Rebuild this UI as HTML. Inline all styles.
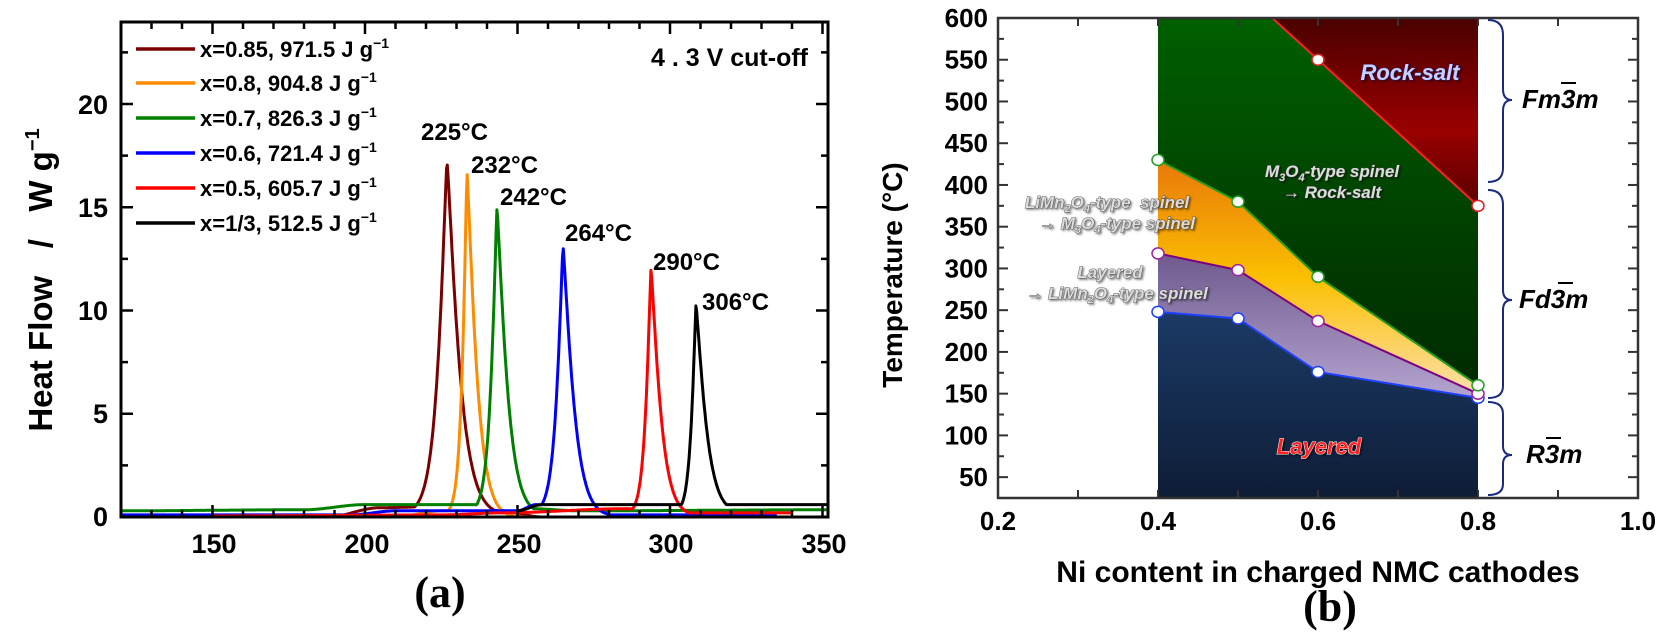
<!DOCTYPE html>
<html><head><meta charset="utf-8">
<style>
html,body{margin:0;padding:0;background:#fff;}
svg{display:block;}
.n{font-family:"Liberation Sans Narrow","Liberation Sans",sans-serif;font-weight:bold;}
.s{font-family:"Liberation Sans",sans-serif;font-weight:bold;}
.t{font-family:"Liberation Serif",serif;font-weight:bold;}
.it{font-family:"Liberation Sans",sans-serif;font-weight:bold;font-style:italic;}
</style></head>
<body>
<svg id="s" width="1663" height="633" viewBox="0 0 1663 633" xmlns="http://www.w3.org/2000/svg">
<defs>
<clipPath id="cl"><rect x="121" y="22" width="707" height="495"/></clipPath>
<linearGradient id="gNavy" x1="0" y1="0" x2="0" y2="1"><stop offset="0" stop-color="#1b3a66"/><stop offset="1" stop-color="#0e1d36"/></linearGradient>
<linearGradient id="gLav" x1="0" y1="0" x2="0" y2="1"><stop offset="0" stop-color="#6e5a8e"/><stop offset="1" stop-color="#b4a4cf"/></linearGradient>
<linearGradient id="gOr" x1="0" y1="0" x2="0" y2="1"><stop offset="0" stop-color="#e8780a"/><stop offset="0.5" stop-color="#fbbf00"/><stop offset="1" stop-color="#fde0a8"/></linearGradient>
<linearGradient id="gGr" x1="0" y1="0" x2="0" y2="1"><stop offset="0" stop-color="#006000"/><stop offset="0.6" stop-color="#003e00"/><stop offset="1" stop-color="#002a00"/></linearGradient>
<linearGradient id="gRd" x1="0" y1="0" x2="0" y2="1"><stop offset="0" stop-color="#4a0000"/><stop offset="0.6" stop-color="#990000"/><stop offset="1" stop-color="#5a0000"/></linearGradient>
<filter id="sh" x="-10%" y="-30%" width="120%" height="160%"><feDropShadow dx="1.5" dy="1.5" stdDeviation="1" flood-color="#000" flood-opacity="0.5"/></filter>
</defs>

<!-- LEFT PLOT -->
<g id="curves" clip-path="url(#cl)" fill="none" stroke-width="3" stroke-linejoin="round"></g>
<rect x="121" y="22" width="707" height="495" fill="none" stroke="#000" stroke-width="3"/>
<g id="lticks" stroke="#000" stroke-width="2.5"></g>
<g class="n" font-size="27" text-anchor="middle" fill="#000">
<text x="214" y="553">150</text><text x="367" y="553">200</text><text x="519" y="553">250</text><text x="671" y="553">300</text><text x="824" y="553">350</text>
</g>
<g class="n" font-size="27" text-anchor="end" fill="#000">
<text x="108" y="526">0</text><text x="108" y="423">5</text><text x="108" y="320">10</text><text x="108" y="217">15</text><text x="108" y="114">20</text>
</g>
<text class="s" font-size="33" transform="translate(52,280) rotate(-90)" text-anchor="middle">Heat Flow &#160;&#160;/ &#160;&#160;W g<tspan font-size="20" dy="-13">−1</tspan></text>
<g stroke-width="3.5">
<line x1="136" y1="49" x2="195" y2="49" stroke="#7b0000"/>
<line x1="136" y1="83" x2="195" y2="83" stroke="#ff8c00"/>
<line x1="136" y1="118" x2="195" y2="118" stroke="#008000"/>
<line x1="136" y1="153" x2="195" y2="153" stroke="#0000ff"/>
<line x1="136" y1="188" x2="195" y2="188" stroke="#ff0000"/>
<line x1="136" y1="223" x2="195" y2="223" stroke="#000"/>
</g>
<g class="n" font-size="22" fill="#000">
<text x="200" y="57">x=0.85, 971.5 J g<tspan font-size="14" dy="-9">−1</tspan></text>
<text x="200" y="91">x=0.8, 904.8 J g<tspan font-size="14" dy="-9">−1</tspan></text>
<text x="200" y="126">x=0.7, 826.3 J g<tspan font-size="14" dy="-9">−1</tspan></text>
<text x="200" y="161">x=0.6, 721.4 J g<tspan font-size="14" dy="-9">−1</tspan></text>
<text x="200" y="196">x=0.5, 605.7 J g<tspan font-size="14" dy="-9">−1</tspan></text>
<text x="200" y="231">x=1/3, 512.5 J g<tspan font-size="14" dy="-9">−1</tspan></text>
</g>
<text class="s" font-size="25" x="808" y="66" text-anchor="end">4 . 3 V cut-off</text>
<g class="n" font-size="24" fill="#000">
<text x="421" y="140">225°C</text><text x="471" y="173">232°C</text><text x="500" y="205">242°C</text>
<text x="565" y="241">264°C</text><text x="653" y="270">290°C</text><text x="702" y="310">306°C</text>
</g>
<text class="t" font-size="44" x="440" y="607" text-anchor="middle">(a)</text>

<!-- RIGHT PLOT -->
<g id="rfill"></g>
<rect x="998" y="18" width="640" height="480" fill="none" stroke="#333" stroke-width="2.5"/>
<g id="rticks" stroke="#333" stroke-width="2"></g>
<g id="rlab" class="n" font-size="26" text-anchor="end" fill="#000"></g>
<g class="n" font-size="26" text-anchor="middle" fill="#000">
<text x="998" y="530">0.2</text><text x="1158" y="530">0.4</text><text x="1318" y="530">0.6</text><text x="1478" y="530">0.8</text><text x="1638" y="530">1.0</text>
</g>
<text class="s" font-size="28" transform="translate(902,275) rotate(-90)" text-anchor="middle">Temperature (°C)</text>
<text class="n" font-size="30" x="1318" y="582" text-anchor="middle">Ni content in charged NMC cathodes</text>
<text class="t" font-size="44" x="1330" y="621" text-anchor="middle">(b)</text>

<g class="it" fill="#ddd" filter="url(#sh)" text-anchor="middle" stroke="#444" stroke-width="0.8" paint-order="stroke">
<text x="1410" y="80" font-size="22" fill="#c8d0ff" stroke="#2a2a90">Rock-salt</text>
<text x="1332" y="177" font-size="17">M<tspan font-size="11" dy="4">3</tspan><tspan dy="-4">O</tspan><tspan font-size="11" dy="4">4</tspan><tspan dy="-4">-type spinel</tspan></text>
<text x="1332" y="198" font-size="17">→ Rock-salt</text>
<text x="1107" y="208" font-size="17">LiMn<tspan font-size="11" dy="4">2</tspan><tspan dy="-4">O</tspan><tspan font-size="11" dy="4">4</tspan><tspan dy="-4">-type &#160;spinel</tspan></text>
<text x="1117" y="229" font-size="17">→ M<tspan font-size="11" dy="4">3</tspan><tspan dy="-4">O</tspan><tspan font-size="11" dy="4">4</tspan><tspan dy="-4">-type spinel</tspan></text>
<text x="1110" y="278" font-size="17">Layered</text>
<text x="1117" y="299" font-size="17">→ LiMn<tspan font-size="11" dy="4">2</tspan><tspan dy="-4">O</tspan><tspan font-size="11" dy="4">4</tspan><tspan dy="-4">-type spinel</tspan></text>
<text x="1319" y="454" font-size="22" fill="#ff2020" stroke="#ffffff" stroke-width="1">Layered</text>
</g>

<g fill="none" stroke="#1a2a80" stroke-width="2">
<path d="M1488,20 Q1503,20 1503,35 L1503,89 Q1503,100 1512,100 Q1503,100 1503,111 L1503,168 Q1503,182 1488,182"/>
<path d="M1488,190 Q1503,190 1503,205 L1503,290 Q1503,300 1512,300 Q1503,300 1503,310 L1503,386 Q1503,398 1488,398"/>
<path d="M1488,402 Q1503,402 1503,414 L1503,446 Q1503,455 1512,455 Q1503,455 1503,464 L1503,484 Q1503,495 1488,495"/>
</g>
<g class="it" font-size="26" fill="#000">
<text x="1522" y="108">Fm3m</text><line x1="1561" y1="83" x2="1576" y2="83" stroke="#000" stroke-width="2"/>
<text x="1519" y="308">Fd3m</text><line x1="1558" y1="283" x2="1573" y2="283" stroke="#000" stroke-width="2"/>
<text x="1526" y="463">R3m</text><line x1="1546" y1="438" x2="1561" y2="438" stroke="#000" stroke-width="2"/>
</g>
</svg>
<script>
(function(){
var NS="http://www.w3.org/2000/svg";
function el(p,n,a){var e=document.createElementNS(NS,n);for(var k in a)e.setAttribute(k,a[k]);p.appendChild(e);return e;}
var X=function(t){return 121+(t-120)*3.05;}, Y=function(v){return 517-v*20.65;};
var lt=document.getElementById('lticks');
for(var t=130;t<=350;t+=10){var maj=(t%50==0);var L=maj?12:7;
 el(lt,'line',{x1:X(t),y1:517,x2:X(t),y2:517-L});el(lt,'line',{x1:X(t),y1:22,x2:X(t),y2:22+L});}
for(var v=2.5;v<24;v+=2.5){var maj=(v%5==0);var L=maj?12:7;
 el(lt,'line',{x1:121,y1:Y(v),x2:121+L,y2:Y(v)});el(lt,'line',{x1:828,y1:Y(v),x2:828-L,y2:Y(v)});}
function interp(pts,t){if(t<=pts[0][0])return pts[0][1];for(var i=1;i<pts.length;i++){if(t<=pts[i][0]){var a=pts[i-1],b=pts[i];var f=(t-a[0])/(b[0]-a[0]);f=f*f*(3-2*f);return a[1]+(b[1]-a[1])*f;}}return pts[pts.length-1][1];}
var series=[
 {c:'#7b0000',px:447,A:17.1,wl:3.4,wr:4.6,t0:120,t1:352,base:[[120,-0.15],[185,-0.1],[205,0.45],[222,0.5],[232,0.5],[245,0.3],[258,0],[352,-0.05]]},
 {c:'#ff8c00',px:467,A:16.6,wl:1.8,wr:3.6,t0:120,t1:352,base:[[120,-0.05],[210,0],[225,0.3],[238,0.3],[248,0],[352,-0.05]]},
 {c:'#008000',px:497,A:14.8,wl:2.3,wr:3.8,t0:120,t1:355,base:[[120,0.3],[180,0.35],[200,0.6],[235,0.6],[255,0.4],[270,0.3],[355,0.35]]},
 {c:'#0000ff',px:563,A:13.0,wl:2.5,wr:4.0,t0:120,t1:335,base:[[120,0.1],[195,0.1],[210,0.3],[250,0.3],[256,0.6],[275,0.1],[335,0.1]]},
 {c:'#ff0000',px:651,A:11.9,wl:2.0,wr:3.6,t0:150,t1:340,base:[[150,0.05],[225,0.1],[245,0.2],[285,0.4],[305,0.2],[340,0.2]]},
 {c:'#000000',px:696,A:10.1,wl:1.8,wr:3.8,t0:250,t1:352,base:[[250,0.3],[258,0.6],[303,0.6],[318,0.6],[352,0.6]]}
];
var g=document.getElementById('curves');
series.forEach(function(s){var p=120+(s.px-121)/3.05;var d='';
 for(var t=s.t0;t<=s.t1;t+=0.25){var b=interp(s.base,t);var dt=t-p;var w=dt<0?s.wl:s.wr;
  var pk=s.A*Math.exp(-Math.pow(Math.abs(dt)/w,1.2));var v=Math.max(b,pk+b*0.3);
  d+=(d?'L':'M')+X(t).toFixed(1)+','+Y(v).toFixed(1);}
 el(g,'path',{d:d,stroke:s.c});});
var RX=function(n){return 998+(n-0.2)*800;}, RY=function(T){return 18+(600-T)*0.8348;};
var rf=document.getElementById('rfill');
var xs=[0.4,0.5,0.6,0.8];
var blue=[248,240,176,145],pur=[318,298,237,150],grn=[430,380,290,160];
function poly(top,bot){var s='';for(var i=0;i<xs.length;i++)s+=RX(xs[i])+','+RY(top[i])+' ';for(var i=xs.length-1;i>=0;i--)s+=RX(xs[i])+','+RY(bot[i])+' ';return s;}
var B25=[25,25,25,25],T600=[600,600,600,600];
el(rf,'polygon',{points:poly(T600,grn),fill:'url(#gGr)'});
el(rf,'polygon',{points:poly(grn,pur),fill:'url(#gOr)'});
el(rf,'polygon',{points:poly(pur,blue),fill:'url(#gLav)'});
el(rf,'polygon',{points:poly(blue,B25),fill:'url(#gNavy)'});
var rx0=0.6-50/875;
el(rf,'polygon',{points:RX(rx0)+','+RY(600)+' '+RX(0.8)+','+RY(600)+' '+RX(0.8)+','+RY(375)+' '+RX(0.6)+','+RY(550),fill:'url(#gRd)'});
function line(arr,c){var s='';for(var i=0;i<xs.length;i++)s+=RX(xs[i])+','+RY(arr[i])+' ';el(rf,'polyline',{points:s,fill:'none',stroke:c,'stroke-width':2});}
line(blue,'#2040ff');line(pur,'#800080');line(grn,'#22a022');
el(rf,'polyline',{points:RX(rx0)+','+RY(600)+' '+RX(0.6)+','+RY(550)+' '+RX(0.8)+','+RY(375),fill:'none',stroke:'#ff2020','stroke-width':2});
function dot(n,T,c){el(rf,'ellipse',{cx:RX(n),cy:RY(T),rx:6,ry:5.5,fill:'#fff',stroke:c,'stroke-width':1.5});}
for(var i=0;i<4;i++){dot(xs[i],blue[i],'#2040ff');}
for(var i=0;i<4;i++){dot(xs[i],pur[i],'#a020a0');}
for(var i=0;i<4;i++){dot(xs[i],grn[i],'#22a022');}
dot(0.6,550,'#e02020');dot(0.8,375,'#e02020');
var rt=document.getElementById('rticks'),rl=document.getElementById('rlab');
for(var T=50;T<600;T+=25){var maj=(T%50==0);var L=maj?10:6;
 el(rt,'line',{x1:998,y1:RY(T),x2:998+L,y2:RY(T)});el(rt,'line',{x1:1638,y1:RY(T),x2:1638-L,y2:RY(T)});}
for(var T=50;T<=600;T+=50){var e=el(rl,'text',{x:988,y:RY(T)+9});e.textContent=T;}
for(var n=0.3;n<1.0;n+=0.1){el(rt,'line',{x1:RX(n),y1:498,x2:RX(n),y2:490});el(rt,'line',{x1:RX(n),y1:18,x2:RX(n),y2:26});}
})();
</script>
</body></html>
